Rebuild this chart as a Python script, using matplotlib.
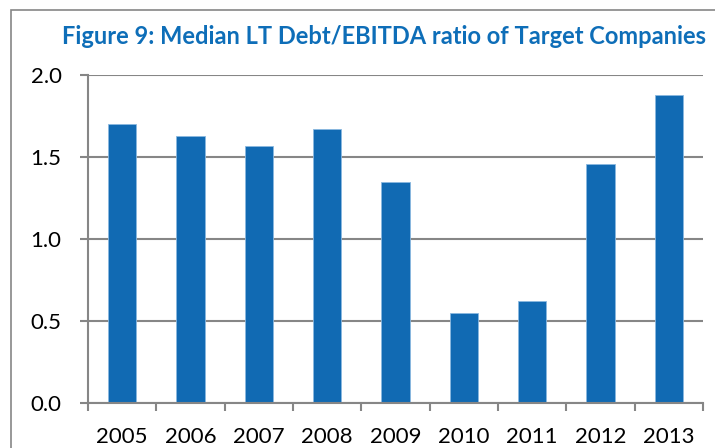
import matplotlib
matplotlib.use("Agg")
import matplotlib.pyplot as plt
from matplotlib.patches import Rectangle
import numpy as np

years = ["2005", "2006", "2007", "2008", "2009", "2010", "2011", "2012", "2013"]
ratios = [1.70, 1.63, 1.57, 1.67, 1.35, 0.55, 0.62, 1.46, 1.88]
yticks = [0.0, 0.5, 1.0, 1.5, 2.0]
ytick_labels = ["0.0", "0.5", "1.0", "1.5", "2.0"]
title = "Figure 9: Median LT Debt/EBITDA ratio of Target Companies"

W, H = 715, 448
fig = plt.figure(figsize=(W / 100, H / 100), dpi=100)
fig.patch.set_facecolor("white")

grey = "#868686"
blue = "#116AB3"

# outer chart border (cut off at right and bottom)
fig.patches.append(Rectangle((11 / W, -0.1), 1.2, (H - 10) / H + 0.1,
                             transform=fig.transFigure, fill=False,
                             edgecolor=grey, linewidth=1.2, zorder=0))

ax = fig.add_axes([88 / W, 45 / H, (703 - 88) / W, (403 - 75) / H])
x = np.arange(len(years))
ax.bar(x, ratios, width=0.41, color=blue, edgecolor="#8ab8e0",
       linewidth=0.6, zorder=3)

ax.set_xlim(-0.5, len(years) - 0.5)
ax.set_ylim(0, 2.0)

for s in ["top", "right"]:
    ax.spines[s].set_visible(False)
ax.spines["left"].set_color(grey)
ax.spines["left"].set_linewidth(1.5)
ax.spines["bottom"].set_color(grey)
ax.spines["bottom"].set_linewidth(1.5)
ax.spines["bottom"].set_zorder(4)

ax.set_yticks(yticks)
ax.set_yticklabels(ytick_labels)
ax.yaxis.grid(True, color=grey, linewidth=1.5, zorder=1)
ax.set_axisbelow(True)
ax.tick_params(axis="y", length=6, width=1.5, color=grey, pad=13,
               labelsize=16, labelcolor="black")

ax.set_xticks(x)
ax.set_xticklabels(years)
ax.set_xticks(np.arange(-0.5, len(years)), minor=True)
ax.tick_params(axis="x", which="major", length=0, pad=17,
               labelsize=16, labelcolor="black")
ax.tick_params(axis="x", which="minor", length=6, width=1.5, color=grey)

for lab in ax.get_xticklabels() + ax.get_yticklabels():
    lab.set_fontfamily("Lato")

fig.text(62 / W, 1 - 37 / H, title, fontsize=17.0, fontweight="bold",
         color="#0E6EB8", family="Lato", ha="left", va="center")

fig.savefig("out.png", dpi=100)
